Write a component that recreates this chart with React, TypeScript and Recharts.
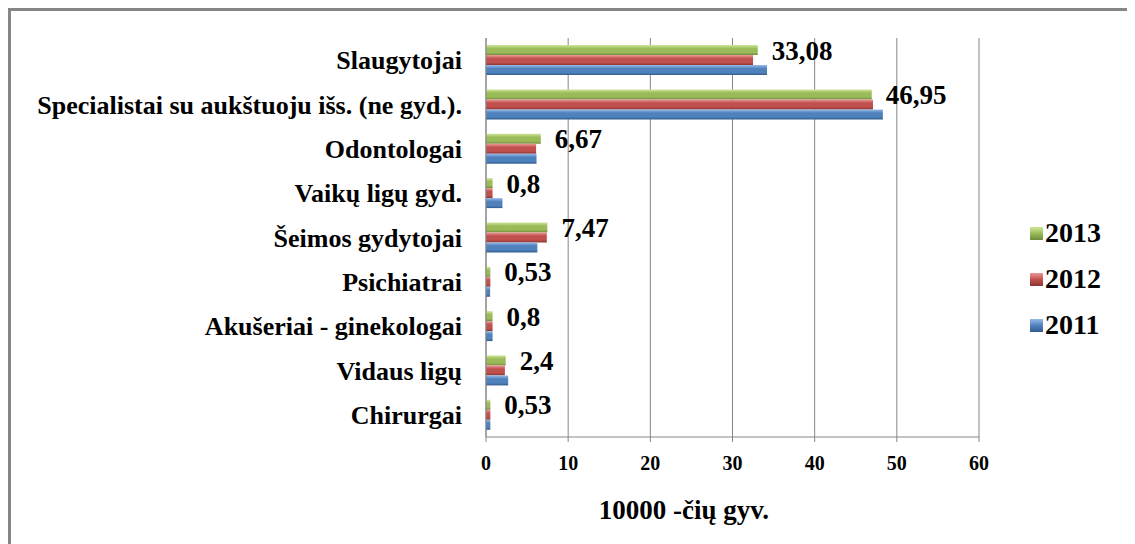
import React from "react"
import { BarChart, Bar, XAxis, YAxis, CartesianGrid, Legend, LabelList } from "recharts"

const categories = [
  "Slaugytojai",
  "Specialistai su aukštuoju išs. (ne gyd.).",
  "Odontologai",
  "Vaikų ligų gyd.",
  "Šeimos gydytojai",
  "Psichiatrai",
  "Akušeriai - ginekologai",
  "Vidaus ligų",
  "Chirurgai",
]
const y2013 = [33.08, 46.95, 6.67, 0.8, 7.47, 0.53, 0.8, 2.4, 0.53]
const y2012 = [32.5, 47.1, 6.1, 0.8, 7.4, 0.53, 0.8, 2.3, 0.53]
const y2011 = [34.2, 48.3, 6.15, 2.0, 6.25, 0.5, 0.8, 2.7, 0.53]
const xTicks = [0, 10, 20, 30, 40, 50, 60]

const data = categories.map((name, i) => ({ name, y2013: y2013[i], y2012: y2012[i], y2011: y2011[i] }))

const series = [
  { key: "y2013", name: "2013", light: "#cfe79a", base: "#9bbb59", dark: "#6f8a3c" },
  { key: "y2012", name: "2012", light: "#ec9a98", base: "#c0504d", dark: "#8a3533" },
  { key: "y2011", name: "2011", light: "#97bbe8", base: "#4f81bd", dark: "#345c8c" },
]

const font = "'Liberation Serif', 'Times New Roman', serif"
const gray = "#868686"

// legenda kaip Excel'yje: kvadratas + metai
function LegendBox() {
  return (
    <div style={{ fontFamily: font, fontWeight: "bold", fontSize: 28 }}>
      {series.map((s) => (
        <div key={s.key} style={{ display: "flex", alignItems: "center", height: 46 }}>
          <span
            style={{
              width: 13,
              height: 13,
              marginRight: 2,
              background: `linear-gradient(${s.light}, ${s.base} 50%, ${s.dark})`,
            }}
          />
          <span>{s.name}</span>
        </div>
      ))}
    </div>
  )
}

export default function App() {
  return (
    <div
      style={{
        width: 1118,
        height: 533,
        borderTop: `3px solid ${gray}`,
        borderLeft: `3px solid ${gray}`,
        borderRight: `3px solid ${gray}`,
        background: "#fff",
      }}
    >
      <BarChart
        width={1118}
        height={533}
        data={data}
        layout="vertical"
        margin={{ top: 27, right: 150, left: 0, bottom: 67 }}
        barCategoryGap="16%"
        barGap={0}
      >
        <defs>
          {series.map((s) => (
            <linearGradient key={s.key} id={`g-${s.key}`} x1="0" y1="0" x2="0" y2="1">
              <stop offset="0%" stopColor={s.light} />
              <stop offset="35%" stopColor={s.base} />
              <stop offset="75%" stopColor={s.base} />
              <stop offset="100%" stopColor={s.dark} />
            </linearGradient>
          ))}
        </defs>
        <CartesianGrid horizontal={false} stroke={gray} />
        <XAxis
          type="number"
          domain={[0, 60]}
          ticks={xTicks}
          height={40}
          stroke={gray}
          tickSize={5}
          tickMargin={14}
          tick={{ fill: "#000", fontFamily: font, fontWeight: "bold", fontSize: 20 }}
          label={({ viewBox }: any) => (
            <text
              x={viewBox.x + 198}
              y={viewBox.y + 82}
              textAnchor="middle"
              fontFamily={font}
              fontWeight="bold"
              fontSize={27}
              fill="#000"
            >
              10000 -čių gyv.
            </text>
          )}
        />
        <YAxis
          type="category"
          dataKey="name"
          width={475}
          stroke={gray}
          tickLine={false}
          tickSize={0}
          tickMargin={24}
          interval={0}
          tick={{ fill: "#000", fontFamily: font, fontWeight: "bold", fontSize: 26 }}
        />
        <Legend
          layout="vertical"
          align="center"
          verticalAlign="middle"
          content={() => <LegendBox />}
          wrapperStyle={{ left: 1019, top: 199, width: 100 }}
        />
        {series.map((s) => (
          <Bar key={s.key} dataKey={s.key} name={s.name} fill={`url(#g-${s.key})`} isAnimationActive={false}>
            {s.key === "y2013" && (
              <LabelList
                dataKey={s.key}
                position="right"
                offset={14}
                formatter={(v: any) => String(v).replace(".", ",")}
                style={{ fill: "#000", fontFamily: font, fontWeight: "bold", fontSize: 27 }}
              />
            )}
          </Bar>
        ))}
      </BarChart>
    </div>
  )
}
